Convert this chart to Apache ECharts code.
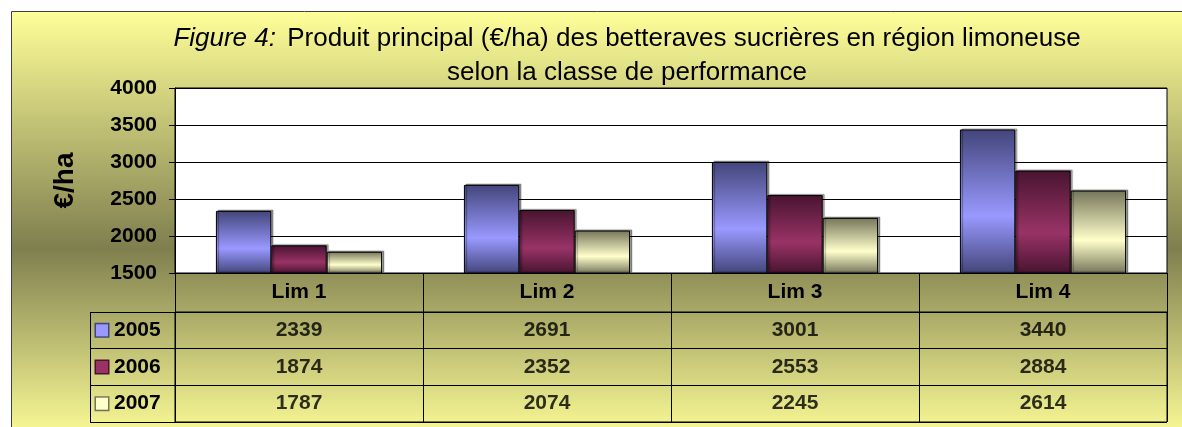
<!DOCTYPE html>
<html>
<head>
<meta charset="utf-8">
<script src="https://cdn.jsdelivr.net/npm/echarts@6/dist/echarts.min.js"></script>
<style>
  html, body { margin: 0; padding: 0; background: #fff; }
  #chart { width: 1182px; height: 427px; }
</style>
</head>
<body>
<div id="chart"></div>
<script>
(function() {
    // données
    var categories = ['Lim 1', 'Lim 2', 'Lim 3', 'Lim 4'];
    var years = ['2005', '2006', '2007'];
    var v2005 = [2339, 2691, 3001, 3440];
    var v2006 = [1874, 2352, 2553, 2884];
    var v2007 = [1787, 2074, 2245, 2614];
    var yMin = 1500, yMax = 4000, yStep = 500;

    var values = [v2005, v2006, v2007];
    // couleurs : sombre / clair pour chaque année
    var darkCol = ['#43457a', '#481430', '#75755a'];
    var lightCol = ['#9999ff', '#993366', '#ffffcc'];

    var font = '"Liberation Sans", Arial, sans-serif';
    var myChart = echarts.init(document.getElementById('chart'), null, { renderer: 'canvas' });

    function barGrad(i) {
        return new echarts.graphic.LinearGradient(0, 0, 0, 1, [
            { offset: 0, color: darkCol[i] },
            { offset: 0.6, color: lightCol[i] },
            { offset: 1, color: darkCol[i] }
        ]);
    }

    var barSeries = years.map(function(y, i) {
        return {
            name: y,
            type: 'bar',
            xAxisIndex: 0,
            yAxisIndex: 0,
            data: values[i],
            barGap: '0%',
            barCategoryGap: '33%',
            itemStyle: {
                color: barGrad(i),
                borderColor: '#000',
                borderWidth: 1,
                shadowColor: 'rgba(0,0,0,0.35)',
                shadowOffsetX: 2,
                shadowOffsetY: -1,
                shadowBlur: 1
            },
            silent: true
        };
    });

    // cellules du tableau de données
    var cells = [];
    values.forEach(function(arr, i) {
        arr.forEach(function(v, j) {
            cells.push([j, i, v]);
        });
    });

    var legendRich = { t: { fontSize: 21, fontWeight: 'bold', color: '#000', fontFamily: font, padding: [0, 0, 0, 6] } };
    years.forEach(function(y, i) {
        legendRich['k' + i] = {
            width: 12, height: 12,
            backgroundColor: lightCol[i],
            borderColor: darkCol[i],
            borderWidth: 1.5
        };
    });

    var option = {
        animation: false,
        textStyle: { fontFamily: font },
        graphic: [{
            type: 'rect',
            z: -100,
            silent: true,
            shape: { x: 11.5, y: 11.5, width: 1300, height: 430 },
            style: {
                fill: new echarts.graphic.LinearGradient(0, 0, 0, 1, [
                    { offset: 0, color: '#ffff99' },
                    { offset: 0.55, color: '#7f7f4f' },
                    { offset: 1, color: '#ffff99' }
                ]),
                stroke: '#404040',
                lineWidth: 1
            }
        }, {
            type: 'line',
            silent: true,
            shape: { x1: 90.5, y1: 312, x2: 90.5, y2: 422.5 },
            style: { stroke: '#000', lineWidth: 1 }
        }],
        title: [{
            left: 622,
            top: 21,
            textAlign: 'center',
            text: '{i|Figure 4:} Produit principal (€/ha) des betteraves sucrières en région limoneuse',
            textStyle: {
                fontSize: 26, fontWeight: 'normal', color: '#000', fontFamily: font,
                rich: { i: { fontSize: 26, fontStyle: 'italic', color: '#000', fontFamily: font, padding: [0, 4, 0, 0] } }
            }
        }, {
            left: 622,
            top: 55,
            textAlign: 'center',
            text: 'selon la classe de performance',
            textStyle: { fontSize: 26, fontWeight: 'normal', color: '#000', fontFamily: font }
        }],
        grid: [{
            left: 175, top: 88, right: 15, height: 185,
            show: true,
            backgroundColor: '#fff',
            borderColor: '#000',
            borderWidth: 1
        }, {
            left: 175, top: 312, right: 15, height: 110,
            show: true,
            backgroundColor: 'transparent',
            borderColor: '#000',
            borderWidth: 1
        }],
        xAxis: [{
            gridIndex: 0,
            type: 'category',
            data: categories,
            axisLine: { lineStyle: { color: '#000' } },
            axisTick: { show: false },
            axisLabel: { show: false }
        }, {
            gridIndex: 1,
            type: 'category',
            position: 'top',
            data: categories,
            axisLine: { lineStyle: { color: '#000' } },
            axisTick: { show: true, length: 39, lineStyle: { color: '#000' } },
            axisLabel: {
                margin: 20,
                verticalAlign: 'middle',
                fontSize: 21, fontWeight: 'bold', color: '#000', fontFamily: font
            },
            splitLine: { show: true, lineStyle: { color: '#000' } }
        }],
        yAxis: [{
            gridIndex: 0,
            type: 'value',
            min: yMin, max: yMax, interval: yStep,
            name: '€/ha',
            nameLocation: 'middle',
            nameRotate: 90,
            nameGap: 96,
            nameTextStyle: { fontSize: 28, fontWeight: 'bold', color: '#000', fontFamily: font },
            axisLine: { show: true, lineStyle: { color: '#000' } },
            axisTick: { show: true, length: 6, lineStyle: { color: '#000' } },
            axisLabel: {
                margin: 18, fontSize: 21, fontWeight: 'bold', color: '#000', fontFamily: font,
                formatter: function(v) { return String(v); }
            },
            splitLine: { show: true, lineStyle: { color: '#000' } }
        }, {
            gridIndex: 1,
            type: 'category',
            inverse: true,
            data: years,
            axisLine: { lineStyle: { color: '#000' } },
            axisTick: { show: true, length: 85, lineStyle: { color: '#000' } },
            axisLabel: {
                margin: 79,
                align: 'left',
                formatter: function(v, idx) { return '{k' + idx + '|}{t|' + v + '}'; },
                rich: legendRich
            },
            splitLine: { show: true, lineStyle: { color: '#000' } }
        }],
        series: barSeries.concat([{
            type: 'scatter',
            xAxisIndex: 1,
            yAxisIndex: 1,
            data: cells,
            symbol: 'rect',
            symbolSize: 1,
            itemStyle: { color: 'rgba(0,0,0,0)' },
            label: {
                show: true,
                position: 'inside',
                formatter: function(p) { return p.value[2]; },
                fontSize: 21, fontWeight: 'bold', color: '#000', fontFamily: font
            },
            silent: true
        }])
    };
    myChart.setOption(option);
    window.addEventListener('resize', function() {
        myChart.resize();
    });
})();
</script>
</body>
</html>
